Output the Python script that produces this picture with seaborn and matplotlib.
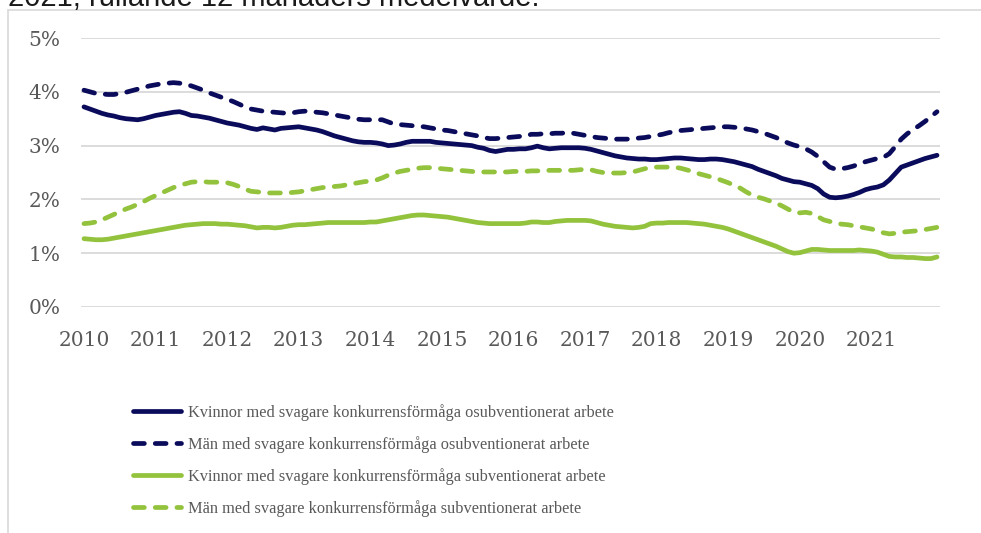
import numpy as np
import pandas as pd
import seaborn as sns
import matplotlib.pyplot as plt
from matplotlib.lines import Line2D

# monthly values, Jan 2010 - Dec 2021, rolling 12-month means (%)
kvinnor_osubv = [
    3.72, 3.68, 3.64, 3.60, 3.57, 3.55, 3.52, 3.50, 3.49, 3.48, 3.50, 3.53,
    3.56, 3.58, 3.60, 3.62, 3.63, 3.60, 3.56, 3.55, 3.53, 3.51, 3.48, 3.45,
    3.42, 3.40, 3.38, 3.35, 3.32, 3.30, 3.33, 3.31, 3.29, 3.32, 3.33, 3.34,
    3.35, 3.33, 3.31, 3.29, 3.26, 3.22, 3.18, 3.15, 3.12, 3.09, 3.07, 3.06,
    3.06, 3.05, 3.03, 3.00, 3.01, 3.03, 3.06, 3.08, 3.08, 3.08, 3.08, 3.06,
    3.05, 3.04, 3.03, 3.02, 3.01, 3.00, 2.97, 2.95, 2.91, 2.89, 2.91, 2.93,
    2.93, 2.94, 2.94, 2.96, 2.99, 2.96, 2.94, 2.95, 2.96, 2.96, 2.96, 2.96,
    2.95, 2.93, 2.90, 2.87, 2.84, 2.81, 2.79, 2.77, 2.76, 2.75, 2.75, 2.74,
    2.74, 2.75, 2.76, 2.77, 2.77, 2.76, 2.75, 2.74, 2.74, 2.75, 2.75, 2.74,
    2.72, 2.70, 2.67, 2.64, 2.61, 2.56, 2.52, 2.48, 2.44, 2.39, 2.36, 2.33,
    2.32, 2.29, 2.26, 2.20, 2.10, 2.04, 2.03, 2.04, 2.06, 2.09, 2.13, 2.18,
    2.21, 2.23, 2.27, 2.36, 2.48, 2.60, 2.64, 2.68, 2.72, 2.76, 2.79, 2.82,
]
man_osubv = [
    4.03, 4.00, 3.97, 3.96, 3.95, 3.95, 3.97, 3.99, 4.02, 4.05, 4.08, 4.11,
    4.13, 4.15, 4.16, 4.17, 4.16, 4.14, 4.11, 4.07, 4.03, 3.98, 3.94, 3.90,
    3.86, 3.82, 3.77, 3.72, 3.68, 3.66, 3.64, 3.63, 3.62, 3.61, 3.60, 3.61,
    3.63, 3.64, 3.64, 3.62, 3.61, 3.59, 3.57, 3.55, 3.53, 3.51, 3.49, 3.48,
    3.48, 3.48, 3.48, 3.44, 3.40, 3.39, 3.38, 3.37, 3.36, 3.35, 3.33, 3.31,
    3.29, 3.28, 3.26, 3.24, 3.22, 3.20, 3.18, 3.15, 3.13, 3.13, 3.14, 3.15,
    3.16, 3.17, 3.18, 3.21, 3.21, 3.22, 3.22, 3.23, 3.23, 3.24, 3.23, 3.21,
    3.19, 3.17, 3.15, 3.14, 3.13, 3.12, 3.12, 3.12, 3.13, 3.14, 3.15, 3.17,
    3.19, 3.21, 3.24, 3.26, 3.28, 3.29, 3.30, 3.31, 3.32, 3.33, 3.34, 3.35,
    3.35, 3.34, 3.33, 3.31, 3.29, 3.26, 3.23, 3.19, 3.15, 3.10, 3.05, 3.01,
    2.98, 2.94, 2.88, 2.80, 2.70, 2.60, 2.56, 2.57, 2.59, 2.62, 2.66, 2.70,
    2.73, 2.76, 2.78, 2.85, 2.98, 3.12, 3.22, 3.30, 3.37, 3.45, 3.54, 3.63,
]
kvinnor_subv = [
    1.27, 1.26, 1.25, 1.25, 1.26, 1.28, 1.30, 1.32, 1.34, 1.36, 1.38, 1.40,
    1.42, 1.44, 1.46, 1.48, 1.50, 1.52, 1.53, 1.54, 1.55, 1.55, 1.55, 1.54,
    1.54, 1.53, 1.52, 1.51, 1.49, 1.47, 1.48, 1.48, 1.47, 1.48, 1.50, 1.52,
    1.53, 1.53, 1.54, 1.55, 1.56, 1.57, 1.57, 1.57, 1.57, 1.57, 1.57, 1.57,
    1.58, 1.58, 1.60, 1.62, 1.64, 1.66, 1.68, 1.70, 1.71, 1.71, 1.70, 1.69,
    1.68, 1.67, 1.65, 1.63, 1.61, 1.59, 1.57, 1.56, 1.55, 1.55, 1.55, 1.55,
    1.55, 1.55, 1.56, 1.58, 1.58, 1.57, 1.57, 1.59, 1.60, 1.61, 1.61, 1.61,
    1.61, 1.60, 1.57, 1.54, 1.52, 1.50, 1.49, 1.48, 1.47, 1.48, 1.50, 1.55,
    1.56, 1.56, 1.57, 1.57, 1.57, 1.57, 1.56, 1.55, 1.54, 1.52, 1.50, 1.48,
    1.45, 1.41, 1.37, 1.33, 1.29, 1.25, 1.21, 1.17, 1.13, 1.08, 1.03, 1.00,
    1.01, 1.04, 1.07, 1.07, 1.06, 1.05, 1.05, 1.05, 1.05, 1.05, 1.06, 1.05,
    1.04, 1.02, 0.98, 0.94, 0.93, 0.93, 0.92, 0.92, 0.91, 0.90, 0.90, 0.93,
]
man_subv = [
    1.55, 1.56, 1.58, 1.62, 1.67, 1.72, 1.77, 1.82, 1.86, 1.91, 1.96, 2.02,
    2.07, 2.12, 2.17, 2.22, 2.26, 2.29, 2.32, 2.33, 2.33, 2.32, 2.32, 2.32,
    2.31, 2.28, 2.24, 2.19, 2.15, 2.14, 2.13, 2.12, 2.12, 2.12, 2.12, 2.13,
    2.14, 2.16, 2.18, 2.20, 2.22, 2.23, 2.24, 2.25, 2.27, 2.29, 2.31, 2.33,
    2.34, 2.36, 2.40, 2.45, 2.49, 2.52, 2.54, 2.56, 2.58, 2.59, 2.59, 2.58,
    2.57, 2.56, 2.55, 2.54, 2.53, 2.52, 2.51, 2.51, 2.51, 2.51, 2.51, 2.51,
    2.52, 2.52, 2.52, 2.53, 2.53, 2.53, 2.54, 2.54, 2.54, 2.54, 2.54, 2.55,
    2.56, 2.55, 2.52, 2.50, 2.49, 2.49, 2.49, 2.50, 2.51, 2.54, 2.57, 2.59,
    2.60, 2.60, 2.60, 2.60, 2.58, 2.55, 2.52, 2.48, 2.45, 2.42, 2.39, 2.35,
    2.31, 2.26, 2.21, 2.14, 2.08, 2.04, 2.01, 1.97, 1.93, 1.88, 1.82, 1.76,
    1.75, 1.76, 1.74, 1.68, 1.62, 1.59, 1.56, 1.54, 1.53, 1.51, 1.49, 1.47,
    1.45, 1.42, 1.38, 1.36, 1.37, 1.39, 1.40, 1.41, 1.42, 1.44, 1.46, 1.48,
]

labels = [
    "Kvinnor med svagare konkurrensförmåga osubventionerat arbete",
    "Män med svagare konkurrensförmåga osubventionerat arbete",
    "Kvinnor med svagare konkurrensförmåga subventionerat arbete",
    "Män med svagare konkurrensförmåga subventionerat arbete",
]
years = list(range(2010, 2022))
y_ticks = [0, 1, 2, 3, 4, 5]

NAVY = "#0b0b5c"
GREEN = "#93c23d"

months = np.arange(len(kvinnor_osubv))
xpos = 2010 + (months + 0.5) / 12

df = pd.concat([
    pd.DataFrame({"x": xpos, "value": vals, "serie": lab})
    for lab, vals in zip(labels, [kvinnor_osubv, man_osubv, kvinnor_subv, man_subv])
])

sns.set_style("white")
plt.rcParams["font.family"] = ["DejaVu Serif"]

fig = plt.figure(figsize=(9.81, 5.33), dpi=100)
W, H = 981, 533
ax = fig.add_axes([81 / W, (H - 307) / H, (940 - 81) / W, (307 - 38) / H])

palette = {labels[0]: NAVY, labels[1]: NAVY, labels[2]: GREEN, labels[3]: GREEN}
dashes = {labels[0]: "", labels[1]: (2.3, 2.3), labels[2]: "", labels[3]: (2.3, 2.3)}
sns.lineplot(data=df, x="x", y="value", hue="serie", style="serie",
             hue_order=labels, style_order=labels, palette=palette, dashes=dashes,
             linewidth=3.4, legend=False, ax=ax,
             dash_capstyle="round", solid_capstyle="round")

ax.set_xlim(2010, 2022)
ax.set_ylim(0, 5)
ax.set_yticks(y_ticks)
ax.set_yticklabels([f"{v}%" for v in y_ticks])
ax.set_xticks([y + 0.5 / 12 for y in years])
ax.set_xticklabels([str(y) for y in years])
ax.set_xlabel("")
ax.set_ylabel("")
ax.grid(axis="y", color="#d9d9d9", linewidth=1.3)
ax.set_axisbelow(True)
for s in ax.spines.values():
    s.set_visible(False)
ax.tick_params(axis="both", length=0, labelsize=14.5, colors="#595959")
ax.tick_params(axis="y", pad=15)
ax.tick_params(axis="x", pad=17)

# frame around chart area
fig.add_artist(Line2D([8 / W, 8 / W], [0, (H - 10) / H], color="#d9d9d9", lw=1.2))
fig.add_artist(Line2D([8 / W, 1], [(H - 10) / H, (H - 10) / H], color="#d9d9d9", lw=1.2))

# cut-off title at the top
fig.text(8 / W, (H - 5.5) / H, "2021, rullande 12 månaders medelvärde.",
         family="Liberation Sans", fontsize=21, color="#1a1a1a",
         ha="left", va="baseline")

handles = ax.get_lines()[:4]
fig.legend(handles, labels, loc="upper left", bbox_to_anchor=(133 / W, (H - 404) / H),
           frameon=False, borderpad=0, borderaxespad=0, handlelength=2.95,
           handletextpad=0.4, labelspacing=0.92,
           prop={"family": "Liberation Serif", "size": 11.8}, labelcolor="#595959")

fig.savefig("out.png", dpi=100)
